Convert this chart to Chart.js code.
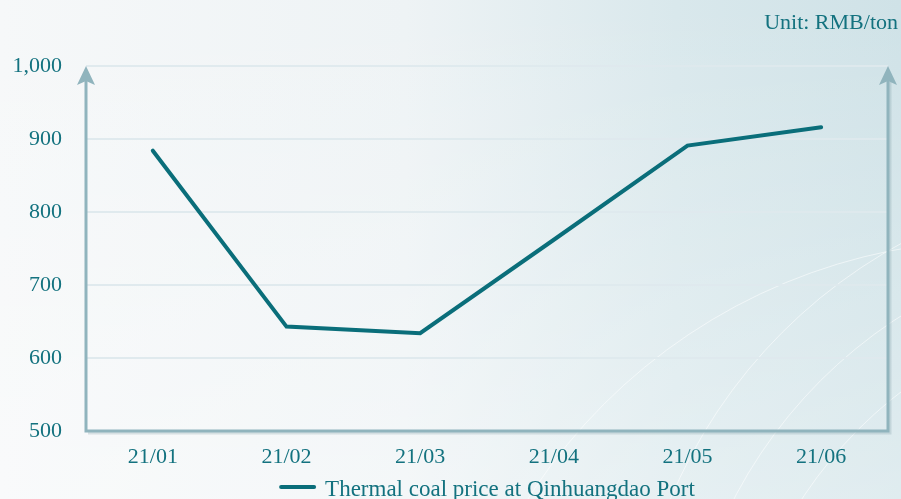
<!DOCTYPE html>
<html>
<head>
<meta charset="utf-8">
<script src="https://cdn.jsdelivr.net/npm/chart.js@4"></script>
<style>
  html, body { margin: 0; padding: 0; background: #f4f7f8; }
  #wrap { width: 901px; height: 499px; position: relative; }
</style>
</head>
<body>
<div id="wrap"><canvas id="coalChart" width="901" height="499"></canvas></div>
<script>
// Chart data
const months = ['21/01', '21/02', '21/03', '21/04', '21/05', '21/06'];
const coalPrice = [884, 643, 634, 762, 891, 916];
const yTicks = [500, 600, 700, 800, 900, 1000];
const seriesName = 'Thermal coal price at Qinhuangdao Port';
const unitLabel = 'Unit: RMB/ton';

const TEXT = '#13727f';
const LINE = '#0a6e7a';
const AXIS = '#90b4bd';
const FONT = '"Liberation Serif", "DejaVu Serif", serif';

// soft background like the original
const backdrop = {
    id: 'backdrop',
    beforeDraw(chart) {
        const ctx = chart.ctx;
        const w = chart.width, h = chart.height;
        ctx.save();
        const g = ctx.createLinearGradient(0, 0, w, 0);
        g.addColorStop(0, '#f6f8f9');
        g.addColorStop(0.45, '#eef3f5');
        g.addColorStop(0.75, '#d9e8ec');
        g.addColorStop(1, '#cfe2e7');
        ctx.fillStyle = g;
        ctx.fillRect(0, 0, w, h);
        const v = ctx.createLinearGradient(0, 0, 0, h);
        v.addColorStop(0, 'rgba(255,255,255,0)');
        v.addColorStop(1, 'rgba(255,255,255,0.35)');
        ctx.fillStyle = v;
        ctx.fillRect(0, 0, w, h);
        // faint sweeping arcs
        ctx.strokeStyle = 'rgba(255,255,255,0.55)';
        ctx.lineWidth = 1;
        [[1150, 700, 520], [1160, 720, 480], [1170, 740, 440], [1000, 800, 560]].forEach(a => {
            ctx.beginPath();
            ctx.arc(a[0], a[1], a[2], Math.PI * 1.0, Math.PI * 1.5);
            ctx.stroke();
        });
        ctx.restore();
    }
};

// axis lines with arrow heads, unit label and legend
const decorations = {
    id: 'decorations',
    afterDatasetsDraw(chart) {
        const ctx = chart.ctx;
        const a = chart.chartArea;
        ctx.save();
        ctx.lineWidth = 3;
        // shadow under bottom axis
        ctx.strokeStyle = 'rgba(120,150,160,0.25)';
        ctx.beginPath();
        ctx.moveTo(a.left + 2, a.bottom + 2);
        ctx.lineTo(a.right + 2, a.bottom + 2);
        ctx.lineTo(a.right + 2, a.top + 16);
        ctx.stroke();
        ctx.strokeStyle = AXIS;
        ctx.fillStyle = AXIS;
        ctx.beginPath();
        ctx.moveTo(a.left, a.top + 14);
        ctx.lineTo(a.left, a.bottom);
        ctx.lineTo(a.right, a.bottom);
        ctx.lineTo(a.right, a.top + 14);
        ctx.stroke();
        [a.left, a.right].forEach(x => {
            ctx.beginPath();
            ctx.moveTo(x, a.top);
            ctx.lineTo(x - 9, a.top + 19);
            ctx.lineTo(x, a.top + 15);
            ctx.lineTo(x + 9, a.top + 19);
            ctx.closePath();
            ctx.fill();
        });

        ctx.font = '22px ' + FONT;
        ctx.fillStyle = TEXT;
        ctx.textBaseline = 'alphabetic';
        ctx.textAlign = 'right';
        ctx.fillText(unitLabel, 898, 29);

        // legend
        ctx.font = '23px ' + FONT;
        ctx.textAlign = 'left';
        const tw = ctx.measureText(seriesName).width;
        const total = 37 + 9 + tw;
        const x0 = (a.left + a.right) / 2 - total / 2;
        ctx.strokeStyle = LINE;
        ctx.lineWidth = 4;
        ctx.lineCap = 'round';
        ctx.beginPath();
        ctx.moveTo(x0 + 2, 487);
        ctx.lineTo(x0 + 35, 487);
        ctx.stroke();
        ctx.fillText(seriesName, x0 + 46, 496);
        ctx.restore();
    }
};

new Chart(document.getElementById('coalChart'), {
    type: 'line',
    data: {
        labels: months,
        datasets: [{
            label: seriesName,
            data: coalPrice,
            borderColor: LINE,
            backgroundColor: LINE,
            borderWidth: 4,
            borderCapStyle: 'round',
            borderJoinStyle: 'miter',
            pointRadius: 0,
            tension: 0
        }]
    },
    options: {
        responsive: false,
        animation: false,
        layout: { padding: { top: 66, right: 13, left: 0, bottom: 0 } },
        plugins: {
            legend: { display: false },
            tooltip: { enabled: false }
        },
        scales: {
            x: {
                offset: true,
                grid: { display: false, drawTicks: false },
                border: { display: false },
                ticks: {
                    color: TEXT,
                    font: { family: FONT, size: 22 },
                    padding: 13,
                    maxRotation: 0
                },
                afterFit(scale) { scale.height = 68; }
            },
            y: {
                min: yTicks[0],
                max: yTicks[yTicks.length - 1],
                afterBuildTicks(scale) {
                    scale.ticks = yTicks.map(v => ({ value: v }));
                },
                grid: { color: 'rgba(222,233,237,0.95)', lineWidth: 2, drawTicks: false },
                border: { display: false },
                ticks: {
                    color: TEXT,
                    font: { family: FONT, size: 22 },
                    padding: 24,
                    callback: v => v.toLocaleString('en-US')
                },
                afterFit(scale) { scale.width = 86; }
            }
        }
    },
    plugins: [backdrop, decorations]
});
</script>
</body>
</html>
